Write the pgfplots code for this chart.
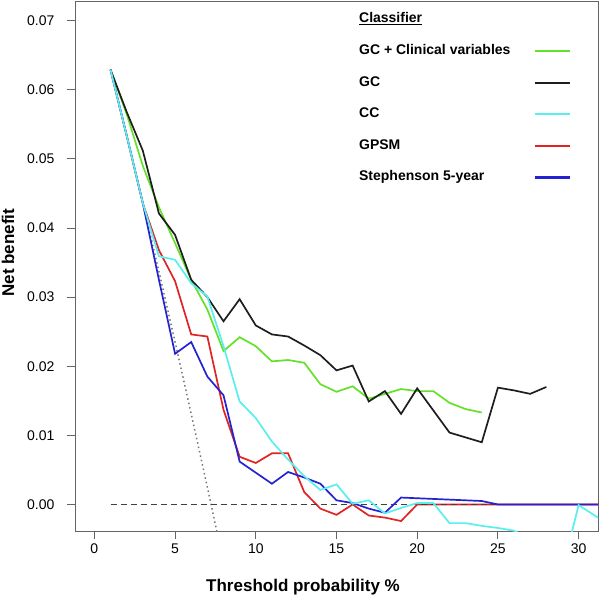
\documentclass[border=0pt]{standalone}
\usepackage{fontspec}
\setmainfont{Liberation Sans}
\usepackage{pgfplots}
\usepackage{pgfplotstable}
\pgfplotsset{compat=1.18}
\definecolor{cgreen}{RGB}{100,225,40}
\definecolor{cblack}{RGB}{30,30,30}
\definecolor{ccyan}{RGB}{90,238,238}
\definecolor{cred}{RGB}{225,35,35}
\definecolor{cblue}{RGB}{35,35,210}
\definecolor{cgray}{RGB}{120,120,120}
\definecolor{frame}{RGB}{100,100,100}

\pgfplotstableread{
x y
1 0.0629
2 0.0565
3 0.0490
4 0.0430
5 0.0378
6 0.0325
7 0.0282
8 0.0222
9 0.0242
10 0.0229
11 0.0207
12 0.0209
13 0.0205
14 0.0174
15 0.0163
16 0.0171
17 0.0153
18 0.0160
19 0.0167
20 0.0164
21 0.0164
22 0.0147
23 0.0138
24 0.0133
}\gcclin

\pgfplotstableread{
x y
1 0.0629
2 0.0568
3 0.0512
4 0.0421
5 0.0390
6 0.0325
7 0.0300
8 0.0265
9 0.0297
10 0.0259
11 0.0246
12 0.0243
13 0.0230
14 0.0216
15 0.0194
16 0.0201
17 0.0149
18 0.0164
19 0.0131
20 0.0168
21 0.0136
22 0.0104
23 0.0097
24 0.0090
25 0.0169
26 0.0165
27 0.0160
28 0.0170
}\gc

\pgfplotstableread{
x y
1 0.0629
2 0.0534
3 0.0436
4 0.0359
5 0.0354
6 0.0320
7 0.0301
8 0.0229
9 0.0149
10 0.0125
11 0.0091
12 0.0065
13 0.0041
14 0.0021
15 0.0029
16 0.0001
17 0.0006
18 -0.0013
19 -0.0005
20 0.0002
21 0.0002
22 -0.0027
23 -0.0027
24 -0.0031
25 -0.0034
26 -0.0038
27 -0.0050
28 -0.0060
29 -0.0094
30 -0.0001
31 -0.0016
32 -0.0031
}\cc

\pgfplotstableread{
x y
1 0.0629
2 0.0534
3 0.0436
4 0.0368
5 0.0323
6 0.0246
7 0.0243
8 0.0137
9 0.0069
10 0.0060
11 0.0074
12 0.0074
13 0.0018
14 -0.0006
15 -0.0015
16 0.0000
17 -0.0016
18 -0.0019
19 -0.0024
20 0.0000
21 0.0000
22 0.0000
23 0.0000
24 0.0000
25 0.0000
26 0.0000
27 0.0000
28 0.0000
29 0.0000
30 0.0000
31 0.0000
32 0.0000
}\gpsm

\pgfplotstableread{
x y
1 0.0629
2 0.0534
3 0.0436
4 0.0325
5 0.0218
6 0.0235
7 0.0185
8 0.0158
9 0.0062
10 0.0046
11 0.0030
12 0.0047
13 0.0039
14 0.0030
15 0.0006
16 0.0002
17 -0.0006
18 -0.0012
19 0.0010
20 0.0009
21 0.0008
22 0.0007
23 0.0006
24 0.0005
25 0.0000
26 0.0000
27 0.0000
28 0.0000
29 0.0000
30 0.0000
31 0.0000
32 0.0000
}\steph

\pgfplotstableread{
x y
1 0.0629
2 0.0534
3 0.0436
4 0.0337
5 0.0235
6 0.0131
7 0.0025
8 -0.0084
}\treatall

\pgfplotstableread{
x y
1 0
31 0
}\treatnone

\begin{document}
\begin{tikzpicture}
\path[use as bounding box] (-75pt,-64pt) rectangle (525pt,531pt);
\begin{axis}[
  at={(0pt,0pt)}, anchor=south west,
  scale only axis, width=523pt, height=530pt,
  xmin=-1.2, xmax=31.2, ymin=-0.00384, ymax=0.07284,
  xtick={0,5,10,15,20,25,30},
  ytick={0,0.01,0.02,0.03,0.04,0.05,0.06,0.07},
  scaled y ticks=false,
  yticklabel style={xshift=-9pt, /pgf/number format/.cd, fixed, fixed zerofill, precision=2},
  xticklabel style={yshift=-1pt},
  xtick pos=bottom, ytick pos=left, tick align=outside, major tick length=8pt,
  axis line style={color=frame, line width=0.9pt},
  tick style={color=frame, line width=0.9pt},
  ticklabel style={font=\fontsize{14}{16}\selectfont},
  /pgf/number format/assume math mode=true,
  xlabel={Threshold probability \%},
  ylabel={Net benefit},
  xlabel style={font=\bfseries\fontsize{17}{20}\selectfont, at={(rel axis cs:0.436,-0.105)}, anchor=center},
  ylabel style={font=\bfseries\fontsize{17}{20}\selectfont, at={(rel axis cs:-0.128,0.525)}, anchor=center},
  legend style={at={(rel axis cs:0.541,1)}, anchor=north west, yshift=-10.7pt,
    draw=none, fill=none, inner sep=0pt, row sep=16.6pt, column sep=22pt,
    font=\bfseries\fontsize{14}{16}\selectfont,
    nodes={inner sep=1pt, text height=10pt, text depth=3pt}},
  legend cell align=left, legend plot pos=right,
  legend image code/.code={\draw[#1, line width=2.2pt] (0pt,0pt) -- (35pt,0pt);},
]
\addlegendimage{empty legend}
\addlegendentry{\underline{Classifier}}
\addlegendimage{cgreen}
\addlegendentry{GC + Clinical variables}
\addlegendimage{cblack}
\addlegendentry{GC}
\addlegendimage{ccyan}
\addlegendentry{CC}
\addlegendimage{cred}
\addlegendentry{GPSM}
\addlegendimage{cblue}
\addlegendentry{Stephenson 5-year}

\addplot[forget plot, cgray, line width=1.5pt, dash pattern=on 1.5pt off 3pt] table[x=x,y=y] {\treatall};
\addplot[forget plot, cgreen, line width=1.7pt] table[x=x,y=y] {\gcclin};
\addplot[forget plot, cblack, line width=1.7pt] table[x=x,y=y] {\gc};
\addplot[forget plot, cred, line width=1.7pt] table[x=x,y=y] {\gpsm};
\addplot[forget plot, black!75, line width=1.8pt, dash pattern=on 6pt off 4pt] table[x=x,y=y] {\treatnone};
\addplot[forget plot, cblue, line width=1.7pt] table[x=x,y=y] {\steph};
\addplot[forget plot, ccyan, line width=1.7pt] table[x=x,y=y] {\cc};
\end{axis}
\end{tikzpicture}
\end{document}
